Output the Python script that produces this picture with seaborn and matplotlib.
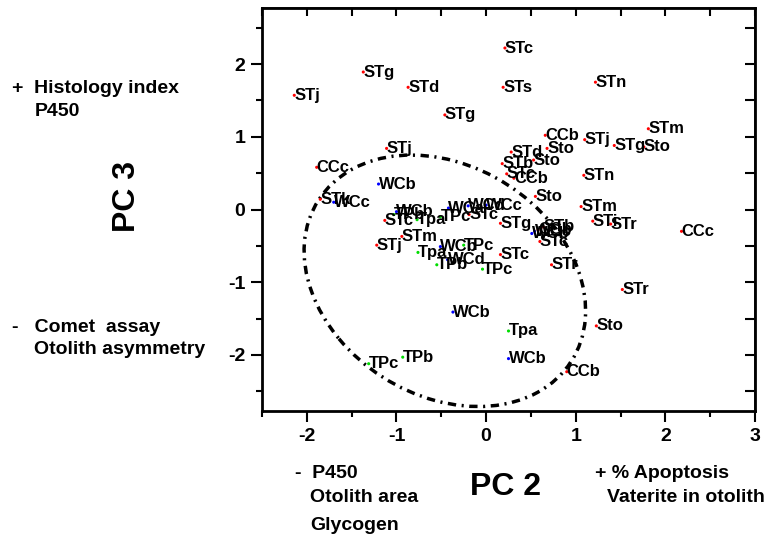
"""PCA score plot: PC 2 vs PC 3 with sample labels and a dash-dot ellipse."""

import matplotlib

matplotlib.use("Agg")

import matplotlib.pyplot as plt
import pandas as pd
import seaborn as sns
from matplotlib.patches import Ellipse
from matplotlib.ticker import MultipleLocator


LABELS = [
    "STj", "STg", "STd", "STg", "STj", "CCc", "WCb", "STk", "WCc",
    "STc", "STs", "STn", "STm", "CCb", "STj", "STg", "Sto", "STd",
    "Sto", "STb", "Sto", "STc", "CCb", "STn", "Sto", "STm", "STi",
    "STr", "CCc", "STg", "STb", "WCb", "STc", "STc", "STr", "STr",
    "Sto", "Tpa", "WCb", "CCb", "STc", "TPb", "WCb", "Tpa", "TPc",
    "WCa", "WCd", "WCc", "STc", "STm", "STj", "Tpa", "WCb", "TPc",
    "WCd", "TPb", "TPc", "WCb", "TPc", "TPb", "CCb", "WCc",
]
PC2 = [
    -2.14, -1.37, -0.87, -0.46, -1.11, -1.89, -1.20, -1.85, -1.70,
    0.21, 0.19, 1.22, 1.81, 0.66, 1.10, 1.43, 1.76, 0.28,
    0.68, 0.18, 0.53, 0.23, 0.31, 1.09, 0.55, 1.06, 1.19,
    1.39, 2.18, 0.16, 0.64, 0.51, 0.60, 0.16, 0.73, 1.52,
    1.23, 0.25, 0.25, 0.90, -1.13, -1.03, -1.00, -0.77, -0.51,
    -0.42, -0.20, 0.00, -0.19, -0.94, -1.22, -0.76, -0.51, -0.25,
    -0.43, -0.55, -0.04, -0.37, -1.31, -0.93, 0.58, 0.54,
]
PC3 = [
    1.57, 1.89, 1.68, 1.30, 0.84, 0.58, 0.35, 0.14, 0.10,
    2.22, 1.68, 1.75, 1.11, 1.02, 0.96, 0.88, 0.86, 0.79,
    0.84, 0.63, 0.68, 0.49, 0.43, 0.47, 0.18, 0.04, -0.16,
    -0.20, -0.30, -0.19, -0.24, -0.33, -0.44, -0.62, -0.76, -1.10,
    -1.60, -1.67, -2.05, -2.23, -0.15, -0.07, -0.03, -0.14, -0.10,
    0.02, 0.05, 0.06, -0.07, -0.37, -0.49, -0.59, -0.51, -0.49,
    -0.69, -0.76, -0.82, -1.41, -2.12, -2.03, -0.28, -0.30,
]
GROUP_COLORS = {"ST": "#ff0000", "CC": "#ff0000", "WC": "#0000ff", "TP": "#00dd00"}

# dash-dot ellipse around the lower cluster
ELLIPSE_CENTER = (-0.46, -0.98)
ELLIPSE_WIDTH = 3.70
ELLIPSE_HEIGHT = 2.85
ELLIPSE_ANGLE = -56.0

W, H = 773, 540


def fig_xy(px, py):
    return px / W, 1 - py / H


sns.set_theme(style="ticks")
plt.rcParams["font.family"] = ["Liberation Sans", "DejaVu Sans"]
plt.rcParams["font.weight"] = "bold"
plt.rcParams["axes.unicode_minus"] = False
plt.rcParams["text.color"] = "black"
plt.rcParams["xtick.color"] = "black"
plt.rcParams["ytick.color"] = "black"

df = pd.DataFrame({"label": LABELS, "pc2": PC2, "pc3": PC3})
df["group"] = df["label"].str[:2].str.upper()

fig = plt.figure(figsize=(W / 100, H / 100), dpi=100)
ax = fig.add_axes([262 / W, 1 - 411 / H, (755 - 262) / W, (411 - 8) / H])

sns.scatterplot(
    data=df, x="pc2", y="pc3", hue="group", palette=GROUP_COLORS,
    s=5, linewidth=0, legend=False, ax=ax, zorder=3,
)
for _, row in df.iterrows():
    ax.text(row["pc2"], row["pc3"], row["label"], ha="left", va="center",
            fontsize=12, fontweight="bold", color="black", zorder=4)

ax.add_patch(Ellipse(ELLIPSE_CENTER, ELLIPSE_WIDTH, ELLIPSE_HEIGHT, angle=ELLIPSE_ANGLE,
                     fill=False, edgecolor="black", lw=2.5,
                     linestyle=(0, (2.4, 1.6, 0.6, 1.6)), zorder=2))

ax.set_xlim(-2.5, 3.0)
ax.set_ylim(-2.77, 2.77)
ax.set_xlabel("")
ax.set_ylabel("")
ax.xaxis.set_major_locator(MultipleLocator(1))
ax.xaxis.set_minor_locator(MultipleLocator(0.5))
ax.yaxis.set_major_locator(MultipleLocator(1))
ax.yaxis.set_minor_locator(MultipleLocator(0.5))
ax.tick_params(which="major", direction="out", length=8, width=1.5,
               labelsize=14, pad=4, colors="black")
ax.tick_params(which="minor", direction="out", length=4, width=1.5, colors="black")
for lab in ax.get_xticklabels() + ax.get_yticklabels():
    lab.set_fontweight("bold")
for spine in ax.spines.values():
    spine.set_linewidth(2)
    spine.set_color("black")
    spine.set_visible(True)

top = ax.secondary_xaxis("top")
top.xaxis.set_major_locator(MultipleLocator(0.5))
top.tick_params(direction="in", length=6, width=1.5, labeltop=False, colors="black")
right = ax.secondary_yaxis("right")
right.yaxis.set_major_locator(MultipleLocator(0.5))
right.tick_params(direction="in", length=7, width=1.5, labelright=False, colors="black")

fig.text(*fig_xy(506, 487), "PC 2", ha="center", va="center", fontsize=23,
         fontweight="bold", color="black")
fig.text(*fig_xy(127, 197), "PC 3", ha="center", va="center", fontsize=23,
         fontweight="bold", rotation=90, color="black")

notes = [
    (12, 89, "+  Histology index"),
    (35, 112, "P450"),
    (12, 327, "-   Comet  assay"),
    (34, 349, "Otolith asymmetry"),
    (295, 473, "-  P450"),
    (310, 497, "Otolith area"),
    (310, 526, "Glycogen"),
    (595, 473, "+ % Apoptosis"),
    (607, 497, "Vaterite in otolith"),
]
for px, py, text in notes:
    fig.text(*fig_xy(px, py), text, ha="left", va="center", fontsize=14,
             fontweight="bold", color="black")

fig.savefig("out.png", dpi=100)
